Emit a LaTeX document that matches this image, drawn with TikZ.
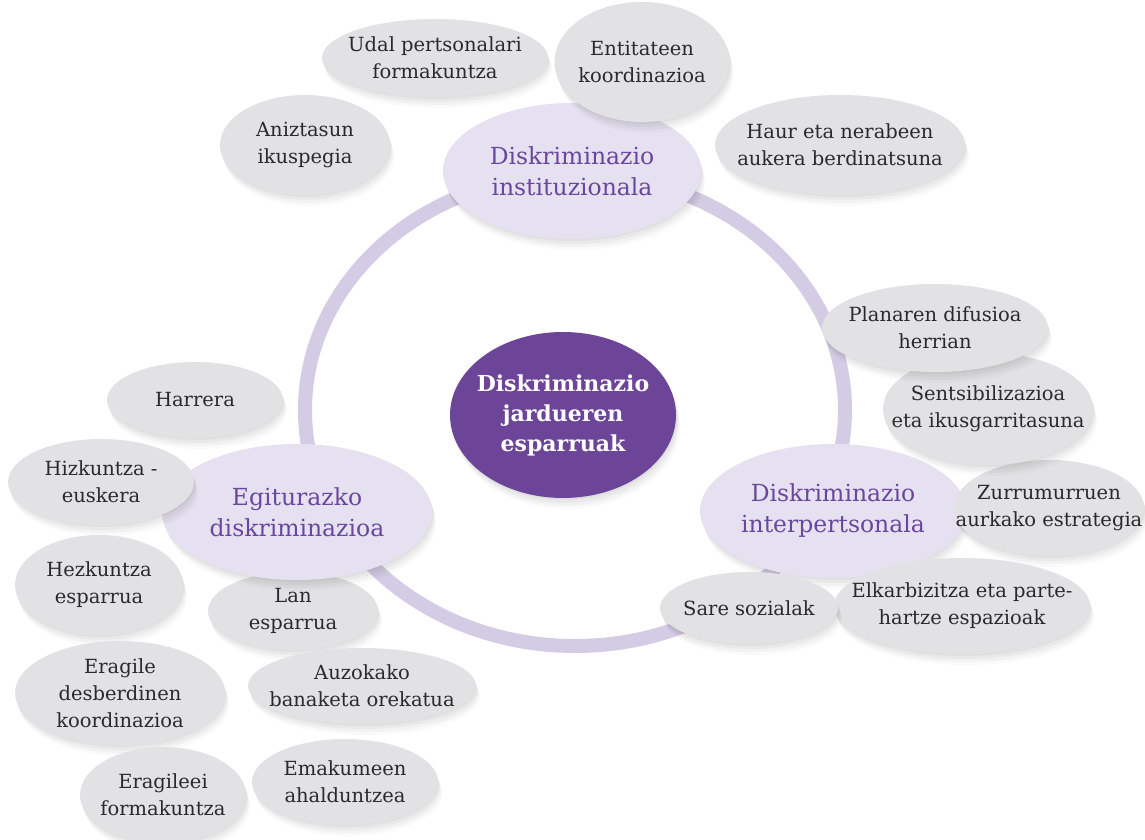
\documentclass[tikz,border=0pt]{standalone}
\usepackage{fontspec}
\setmainfont{DejaVu Serif}
\usetikzlibrary{shapes.geometric}
\definecolor{ringc}{HTML}{D4CBE5}
\definecolor{bubblec}{HTML}{E2E2E4}
\definecolor{textc}{HTML}{2A2A2A}
\definecolor{areac}{HTML}{E6E1F1}
\definecolor{titlec}{HTML}{6A479C}
\definecolor{corec}{HTML}{6C4599}
\begin{document}
\begin{tikzpicture}[
    x=1pt,y=-1pt,
    ring/.style={line width=14pt, draw=ringc},
    dim/.style 2 args={minimum width=#1pt, minimum height=#2pt},
    shade/.style={
      preaction={fill=black, opacity=0.035, transform canvas={xshift=1pt, yshift=-2pt}},
      preaction={fill=black, opacity=0.035, transform canvas={xshift=2pt, yshift=-5pt}},
      preaction={fill=black, opacity=0.03, transform canvas={xshift=3pt, yshift=-8pt}},
      preaction={fill=black, opacity=0.02, transform canvas={xshift=4pt, yshift=-11pt}}},
    bubble/.style={ellipse, shade, fill=bubblec, text=textc, inner xsep=-40pt, inner ysep=-12pt,
      align=center, font=\fontsize{19.5}{27}\selectfont},
    area/.style={bubble, fill=areac, text=titlec, font=\fontsize{23.5}{31}\selectfont},
    core/.style={bubble, fill=corec, text=white, font=\bfseries\fontsize{22}{30}\selectfont}
    ]
    \useasboundingbox (0,0) rectangle (1145,840);
    \fill[white] (0,0) rectangle (1145,840);
    \draw[ring] (575,410) ellipse [x radius=270pt, y radius=236pt];

    \node[bubble, dim={170}{78}] (lan) at (293,611) {Lan\\esparrua};
    \node[core, dim={226}{166}] (core) at (563,415) {Diskriminazio\\jardueren\\esparruak};
    \node[area, dim={258}{136}] (instit) at (572,171) {Diskriminazio\\instituzionala};
    \node[area, dim={270}{136}] (egitur) at (297,512) {Egiturazko\\diskriminazioa};
    \node[area, dim={266}{134}] (interp) at (833,511) {Diskriminazio\\interpertsonala};

    \node[bubble, dim={226}{78}] (udal) at (435,58) {Udal pertsonalari\\formakuntza};
    \node[bubble, dim={175}{120}] (entit) at (642,62) {Entitateen\\koordinazioa};
    \node[bubble, dim={170}{100}] (anizt) at (305,145) {Aniztasun\\ikuspegia};
    \node[bubble, dim={250}{100}] (haur) at (840,145) {Haur eta nerabeen\\aukera berdinatsuna};
    \node[bubble, dim={190}{96}] (zurru) at (1049,508) {Zurrumurruen\\aurkako estrategia};
    \node[bubble, dim={210}{112}] (sents) at (988,409) {Sentsibilizazioa\\eta ikusgarritasuna};
    \node[bubble, dim={226}{88}] (plan) at (935,328) {Planaren difusioa\\herrian};
    \node[bubble, dim={256}{96}] (elkar) at (962,606) {Elkarbizitza eta parte-\\hartze espazioak};
    \node[bubble, dim={178}{72}] (sare) at (749,608) {Sare sozialak};
    \node[bubble, dim={176}{76}] (harrera) at (195,400) {Harrera};
    \node[bubble, dim={186}{86}] (hizk) at (101,482) {Hizkuntza -\\euskera};
    \node[bubble, dim={168}{100}] (hezk) at (99,585) {Hezkuntza\\esparrua};
    \node[bubble, dim={210}{104}] (eragile) at (120,693) {Eragile\\desberdinen\\koordinazioa};
    \node[bubble, dim={228}{76}] (auzo) at (362,686) {Auzokako\\banaketa orekatua};
    \node[bubble, dim={166}{96}] (eragileei) at (163,795) {Eragileei\\formakuntza};
    \node[bubble, dim={186}{86}] (emak) at (345,782) {Emakumeen\\ahalduntzea};
\end{tikzpicture}
\end{document}
